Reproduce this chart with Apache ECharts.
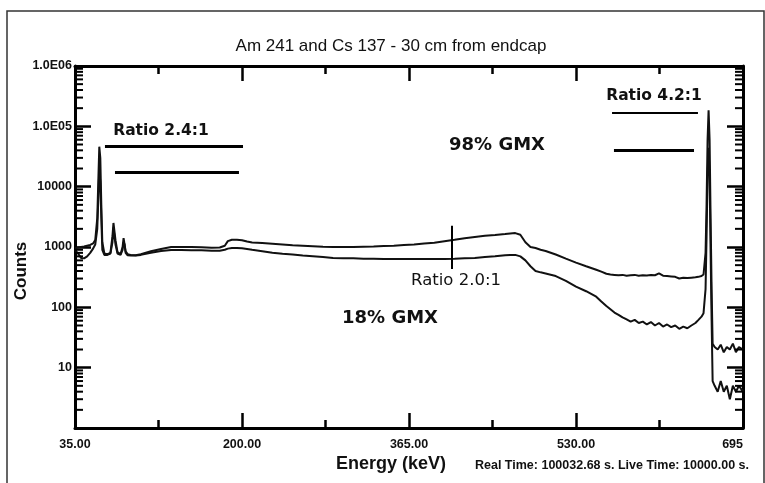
<!DOCTYPE html>
<html>
<head>
<meta charset="utf-8">
<script src="https://cdn.jsdelivr.net/npm/echarts@6/dist/echarts.min.js"></script>
<style>
html,body{margin:0;padding:0;background:#fff;}
#chart{width:765px;height:483px;}
</style>
</head>
<body>
<div id="chart"></div>
<script>
// ---- data ----
const titleText = 'Am 241 and Cs 137 - 30 cm from endcap';
const xTickValues = [35, 200, 365, 530, 695];
const xTickLabels = ['35.00', '200.00', '365.00', '530.00', '695'];
const yTickValues = [1, 10, 100, 1000, 10000, 100000, 1000000];
const yTickLabels = ['', '10', '100', '1000', '10000', '1.0E05', '1.0E06'];
const yMinorTicks = [2,3,4,5,6,7,8,9, 20,30,40,50,60,70,80,90, 200,300,400,500,600,700,800,900,
  2000,3000,4000,5000,6000,7000,8000,9000, 20000,30000,40000,50000,60000,70000,80000,90000,
  200000,300000,400000,500000,600000,700000,800000,900000];

const energies = [
  35, 38, 41, 44, 47, 50, 53, 55, 57, 58,
  59, 60, 61, 62, 64, 67, 70, 72, 73, 74,
  75, 77, 80, 82, 83, 84, 85, 87, 90, 95,
  100, 110, 120, 130, 140, 150, 160, 170, 178, 183,
  186, 190, 195, 200, 205, 210, 220, 230, 240, 250,
  260, 270, 280, 290, 300, 310, 320, 330, 340, 350,
  360, 370, 380, 390, 400, 410, 420, 430, 440, 450,
  460, 465, 470, 475, 480, 485, 490, 495, 500, 510,
  520, 530, 540, 550, 555, 560, 564, 568, 572, 576,
  580, 584, 588, 592, 596, 600, 604, 608, 612, 616,
  620, 624, 628, 632, 636, 640, 644, 648, 651, 654,
  656, 658, 659, 660, 661, 662, 663, 664, 665, 667,
  670, 673, 676, 679, 682, 685, 688, 691, 695
];
const countsGMX98 = [
  950, 980, 1000, 1020, 1050, 1080, 1150, 1300, 3000, 12000,
  46000, 30000, 5000, 1200, 780, 760, 800, 1500, 2500, 2400,
  1300, 820, 760, 1000, 1400, 1300, 850, 760, 740, 730,
  760, 850, 930, 1000, 1000, 1000, 990, 970, 980, 1050,
  1250, 1320, 1320, 1290, 1230, 1190, 1160, 1130, 1100, 1070,
  1050, 1030, 1010, 1000, 1000, 1000, 1010, 1020, 1040, 1050,
  1080, 1100, 1140, 1180, 1250, 1320, 1400, 1470, 1530, 1580,
  1640, 1680, 1700, 1600, 1200, 1000, 960, 900, 860, 750,
  640, 550, 480, 420, 390, 360, 350, 345, 340, 345,
  335, 340, 345, 335, 340, 338, 345, 340, 365, 335,
  330, 325, 320, 300, 310, 305, 310, 315, 320, 330,
  350, 800, 5000, 60000, 185000, 60000, 3000, 200, 25, 22,
  20, 24, 18, 22, 20, 25, 18, 22, 20
];
const countsGMX18 = [
  900, 780, 660, 650, 700, 800, 950, 1100, 2000, 6000,
  19000, 12000, 3000, 900, 740, 740, 780, 1200, 2100, 2000,
  1100, 780, 740, 900, 1200, 1100, 800, 730, 720, 720,
  740, 800, 860, 890, 890, 880, 880, 870, 870, 900,
  940, 960, 960, 950, 930, 900, 850, 800, 770, 750,
  720, 700, 680, 660, 650, 650, 640, 640, 630, 630,
  630, 630, 630, 630, 635, 640, 650, 660, 680, 700,
  730, 740, 740, 700, 600, 480, 400, 380, 365, 330,
  275, 220, 185, 150, 125, 105, 93, 82, 75, 68,
  63, 58, 62, 55, 58, 52, 57, 50, 55, 48,
  52, 47, 50, 44, 48, 45, 50, 55, 62, 70,
  80, 200, 1500, 15000, 44000, 15000, 800, 60, 6, 5,
  4, 6, 4, 5, 3, 5, 4, 5, 4
];

// ---- chart ----
const chart = echarts.init(document.getElementById('chart'), null, {renderer: 'canvas'});
const seriesA = energies.map((e, i) => [e, countsGMX98[i]]);
const seriesB = energies.map((e, i) => [e, countsGMX18[i]]);

const sansFont = '"Liberation Sans", Arial, sans-serif';
const boldAnno = '"DejaVu Sans", sans-serif';

function xLabel(v) {
  const i = xTickValues.indexOf(Math.round(v));
  return i >= 0 ? xTickLabels[i] : '';
}
function yLabel(v) {
  const i = yTickValues.indexOf(Math.round(v));
  return i >= 0 ? yTickLabels[i] : '';
}

const axisLine = {show: true, lineStyle: {color: '#000', width: 3}};
const xCommon = {
  type: 'value', min: 35, max: 695, interval: 165,
  axisLine: axisLine,
  axisTick: {show: true, inside: true, length: 15, lineStyle: {color: '#000', width: 2.5}},
  minorTick: {show: true, splitNumber: 2, length: 8, lineStyle: {color: '#000', width: 2.5}},
  splitLine: {show: false}, minorSplitLine: {show: false}
};
const yCommon = {
  type: 'log', logBase: 10, min: 1, max: 1000000,
  axisLine: axisLine,
  axisTick: {show: true, inside: true, length: 16, lineStyle: {color: '#000', width: 2.5}},
  splitLine: {show: false}
};

function text(x, y, str, font, opts) {
  opts = opts || {};
  return {
    type: 'text', x: x, y: y, rotation: opts.rotation || 0, z: 100, silent: true,
    style: {
      text: str, font: font, fill: '#111',
      align: opts.align || 'center', textAlign: opts.align || 'center',
      verticalAlign: 'middle', textVerticalAlign: 'middle'
    }
  };
}

const annoLine = {color: '#000', width: 3, type: 'solid'};

chart.setOption({
  animation: false,
  backgroundColor: '#fff',
  grid: {left: 75, right: 22, top: 66, bottom: 55},
  xAxis: [
    Object.assign({}, xCommon, {
      position: 'bottom',
      axisLabel: {show: true, formatter: xLabel, margin: 10, color: '#111',
        fontSize: 12.5, fontWeight: 'bold', fontFamily: sansFont,
        alignMinLabel: 'center', alignMaxLabel: 'right'}
    }),
    Object.assign({}, xCommon, {position: 'top', axisLabel: {show: false}})
  ],
  yAxis: [
    Object.assign({}, yCommon, {
      position: 'left',
      axisLabel: {show: true, formatter: yLabel, margin: 3, color: '#111',
        fontSize: 12.5, fontWeight: 'bold', fontFamily: sansFont}
    }),
    Object.assign({}, yCommon, {position: 'right', axisLabel: {show: false}})
  ],
  series: [
    {
      type: 'line', name: '98% GMX', data: seriesA, showSymbol: false, symbol: 'none',
      lineStyle: {color: '#111', width: 2}, xAxisIndex: 0, yAxisIndex: 0, z: 3,
      markLine: {
        silent: true, symbol: ['none', 'none'], label: {show: false},
        lineStyle: annoLine,
        data: [
          [{coord: [64.6, 46400]}, {coord: [201, 46400]}],
          [{coord: [74.5, 17100]}, {coord: [197, 17100]}],
          [{coord: [565.6, 171000], lineStyle: {width: 2}}, {coord: [650.5, 171000]}],
          [{coord: [567.5, 39800]}, {coord: [646.6, 39800]}],
          [{coord: [407.5, 2240], lineStyle: {width: 2}}, {coord: [407.5, 430]}]
        ]
      }
    },
    {
      type: 'line', name: '18% GMX', data: seriesB, showSymbol: false, symbol: 'none',
      lineStyle: {color: '#111', width: 2}, xAxisIndex: 0, yAxisIndex: 0, z: 3
    },
    {
      type: 'custom', name: 'yMinorTicks', silent: true, clip: false, z: 5,
      data: yMinorTicks.map(v => [35, v]),
      encode: {x: 0, y: 1},
      renderItem: function (params, api) {
        const v = api.value(1);
        const pL = api.coord([35, v]);
        const pR = api.coord([695, v]);
        return {
          type: 'group',
          children: [
            {type: 'line', shape: {x1: pL[0], y1: pL[1], x2: pL[0] + 8, y2: pL[1]},
              style: {stroke: '#000', lineWidth: 2}},
            {type: 'line', shape: {x1: pR[0] - 8, y1: pR[1], x2: pR[0], y2: pR[1]},
              style: {stroke: '#000', lineWidth: 2}}
          ]
        };
      }
    }
  ],
  graphic: [
    {type: 'rect', shape: {x: 7, y: 11, width: 757, height: 490}, silent: true,
      style: {fill: 'none', stroke: '#333', lineWidth: 1.5}},
    text(391, 46, titleText, '17px ' + sansFont),
    text(21, 271, 'Counts', 'bold 17px ' + sansFont, {rotation: Math.PI / 2}),
    text(391, 464, 'Energy (keV)', 'bold 18px ' + sansFont),
    text(612, 466, 'Real Time: 100032.68 s. Live Time: 10000.00 s.', 'bold 12.5px ' + sansFont),
    text(161, 131, 'Ratio 2.4:1', 'bold 15.5px ' + boldAnno),
    text(654, 96, 'Ratio 4.2:1', 'bold 15.5px ' + boldAnno),
    text(456, 281, 'Ratio 2.0:1', '16.5px ' + boldAnno),
    text(497, 145, '98% GMX', 'bold 18px ' + boldAnno),
    text(390, 318, '18% GMX', 'bold 18px ' + boldAnno)
  ]
});
</script>
</body>
</html>
